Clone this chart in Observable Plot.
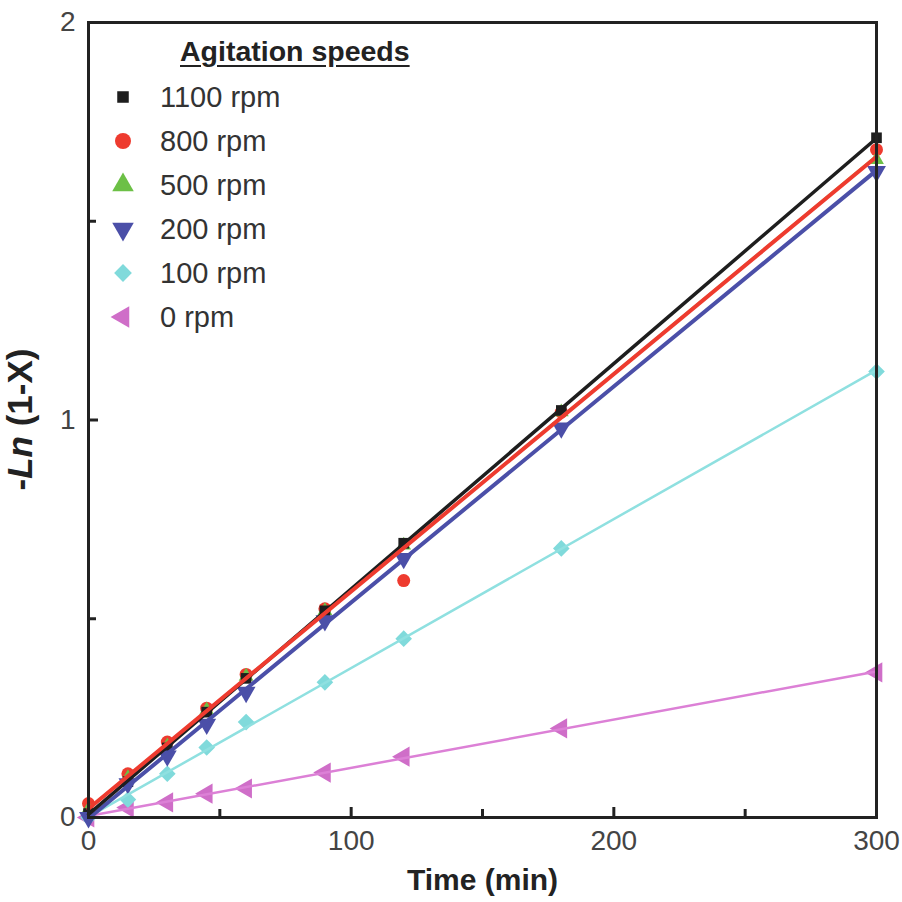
<!DOCTYPE html>
<html><head><meta charset="utf-8">
<script src="https://cdn.jsdelivr.net/npm/d3@7"></script>
<script src="https://cdn.jsdelivr.net/npm/@observablehq/plot@0.6"></script>
<style>
body{margin:0;background:#fff;}
#wrap{position:relative;width:902px;height:902px;font-family:"Liberation Sans",Arial,Helvetica,sans-serif;}
#legend{position:absolute;left:0;top:0;width:0;height:0;}
.lg-title{position:absolute;left:180px;top:35px;font-weight:bold;font-size:28.5px;text-decoration:underline;text-underline-offset:4px;color:#222;white-space:nowrap;}
.lg-row{position:absolute;left:108px;height:30px;display:flex;align-items:center;white-space:nowrap;font-size:29px;color:#333;}
.lg-row svg{width:30px;height:30px;margin-right:22px;}
</style></head><body><div id="wrap"></div>
<script>
// ---- data ----
const times   = [0, 15, 30, 45, 60, 90, 120, 180, 300];
const speeds  = ["1100 rpm", "800 rpm", "500 rpm", "200 rpm", "100 rpm", "0 rpm"];
const rpm1100 = [0.01, 0.09, 0.175, 0.265, 0.35, 0.52, 0.69, 1.024, 1.71];
const rpm800  = [0.035, 0.11, 0.19, 0.275, 0.36, 0.525, 0.596, 1.02, 1.68];
const rpm500  = [0.02, 0.10, 0.18, 0.27, 0.355, 0.52, 0.685, 1.02, 1.655];
const rpm200  = [0.0, 0.085, 0.155, 0.235, 0.315, 0.495, 0.652, 0.98, 1.625];
const rpm100  = [0.0, 0.045, 0.11, 0.176, 0.24, 0.34, 0.45, 0.677, 1.122];
const rpm0    = [0.0, 0.025, 0.038, 0.06, 0.073, 0.113, 0.153, 0.224, 0.365];
const xTickValues  = [0, 100, 200, 300];
const xMinorTicks  = [50, 150, 250];
const yTickValues  = [0, 1, 2];
const yMinorTicks  = [0.5, 1.5];

// ---- styling ----
const seriesValues = [rpm1100, rpm800, rpm500, rpm200, rpm100, rpm0];
const markColors = ["#1e1e1e", "#ee3b2f", "#6cc046", "#4b4fa8", "#80dadb", "#cf6ec8"];
const lineColors = ["#1e1e1e", "#ee3b2f", "#a8d46a", "#4b4fa8", "#8fe0e0", "#dc80d6"];
const lineWidths = [3.5, 4, 2, 4, 2.5, 2.5];
const symbols    = ["square", "circle", "triangle", "triangle", "diamond2", "triangle"];
const rotations  = [0, 0, 0, 180, 0, -90];
const legendR    = [6.5, 8, 8, 8, 8, 8];
const plotR      = [6, 6.5, 5.5, 7, 7.5, 7.5];

const series = speeds.map((name, i) => ({
  name, i,
  rows: times.map((t, j) => ({t, v: seriesValues[i][j]}))
}));

const W = 902, H = 902, mL = 88, mR = 26, mT = 22, mB = 85;
const frameW = W - mL - mR, frameH = H - mT - mB;

const marks = [];
// markers (red/green first so they sit beneath the others)
for (const i of [1, 2, 5, 4, 0, 3]) {
  const s = series[i];
  marks.push(Plot.dot(s.rows, {x: "t", y: "v", symbol: symbols[i], rotate: rotations[i],
    r: plotR[i], fill: markColors[i], stroke: "none"}));
}
// fitted lines (order: back to front)
for (const i of [5, 4, 3, 0, 2, 1]) {
  const s = series[i];
  marks.push(Plot.linearRegressionY(s.rows, {x: "t", y: "v", ci: 0,
    stroke: lineColors[i], strokeWidth: lineWidths[i]}));
}
// frame and inward ticks
marks.push(Plot.frame({stroke: "#222", strokeWidth: 3}));
marks.push(Plot.tickX(xTickValues, {x: d => d, insetTop: frameH - 10, stroke: "#222", strokeWidth: 3}));
marks.push(Plot.tickX(xMinorTicks, {x: d => d, insetTop: frameH - 8, stroke: "#222", strokeWidth: 3}));
marks.push(Plot.tickY(yTickValues, {y: d => d, insetRight: frameW - 10, stroke: "#222", strokeWidth: 3}));
marks.push(Plot.tickY(yMinorTicks, {y: d => d, insetRight: frameW - 8, stroke: "#222", strokeWidth: 3}));
// axes
marks.push(Plot.axisX(xTickValues, {tickSize: 0, tickPadding: 13, fontSize: 28, fill: "#444", label: null, tickFormat: d3.format("d")}));
marks.push(Plot.axisY(yTickValues, {tickSize: 0, tickPadding: 13, fontSize: 28, fill: "#444", label: null, tickFormat: d3.format("d")}));
marks.push(Plot.text(["Time (min)"], {frameAnchor: "bottom", dy: 72, fontSize: 30, fontWeight: "bold", fill: "#222"}));

const chart = Plot.plot({
  width: W, height: H,
  marginLeft: mL, marginRight: mR, marginTop: mT, marginBottom: mB,
  style: {fontFamily: '"Liberation Sans", Arial, Helvetica, sans-serif', background: "#fff", overflow: "visible"},
  x: {domain: [0, 300]},
  y: {domain: [0, 2]},
  marks
});
const wrap = document.getElementById("wrap");
wrap.appendChild(chart);

// y-axis title with italic "Ln"
const svg = d3.select(chart);
const yt = svg.append("text")
  .attr("transform", `translate(32,${mT + frameH / 2}) rotate(-90)`)
  .attr("text-anchor", "middle")
  .attr("font-size", 35).attr("font-weight", "bold").attr("fill", "#222");
yt.append("tspan").text("-");
yt.append("tspan").attr("font-style", "italic").text("Ln");
yt.append("tspan").text(" (1-X)");

// legend (inside plot, top-left)
const legend = document.createElement("div");
legend.id = "legend";
wrap.appendChild(legend);
const title = document.createElement("div");
title.className = "lg-title";
title.textContent = "Agitation speeds";
legend.appendChild(title);
const symGen = {square: d3.symbolSquare, circle: d3.symbolCircle, triangle: d3.symbolTriangle, diamond2: d3.symbolDiamond2};
series.forEach((s, k) => {
  const row = document.createElement("div");
  row.className = "lg-row";
  row.style.top = (82 + k * 44) + "px";
  const size = Math.PI * legendR[s.i] * legendR[s.i];
  const path = d3.symbol(symGen[symbols[s.i]], size)();
  row.innerHTML = `<svg viewBox="-15 -15 30 30"><path d="${path}" fill="${markColors[s.i]}" transform="rotate(${rotations[s.i]})"/></svg><span>${s.name}</span>`;
  legend.appendChild(row);
});
</script>
</body></html>
